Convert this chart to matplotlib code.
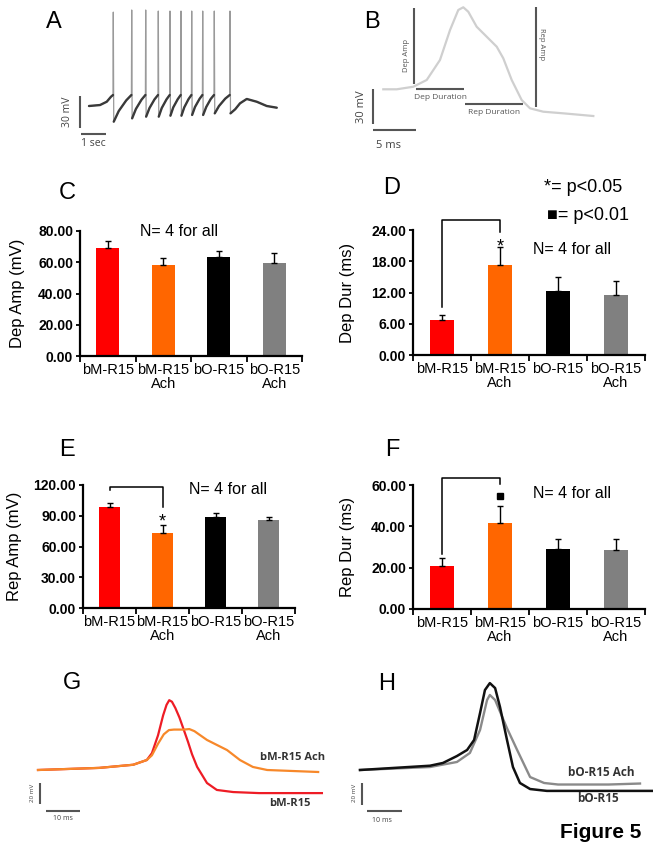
import numpy as np
import matplotlib
matplotlib.use('Agg')
import matplotlib.pyplot as plt

plt.rcParams['font.family'] = ['Liberation Sans', 'DejaVu Sans']

W, H = 653, 852

# ---------------- data ----------------
categories = ['bM-R15', 'bM-R15\nAch', 'bO-R15', 'bO-R15\nAch']
bar_colors = ['#FF0000', '#FF6600', '#000000', '#808080']

dep_amp = [69.0, 58.5, 63.5, 59.5]
dep_amp_err = [4.5, 4.0, 3.5, 6.5]
dep_dur = [6.8, 17.3, 12.2, 11.6]
dep_dur_err = [0.8, 3.4, 2.7, 2.6]
rep_amp = [98.5, 73.5, 89.0, 85.5]
rep_amp_err = [4.0, 7.0, 4.0, 3.0]
rep_dur = [21.0, 41.5, 29.0, 28.7]
rep_dur_err = [3.7, 8.5, 4.8, 5.0]

# Panel A: spike train (time s, voltage mV relative to rest)
A_pre = [(0.0, 0.0), (0.44, 0.9), (0.71, 4.0), (0.88, 8.7), (0.96, 10.3)]
A_spike_t = [0.972, 1.708, 2.268, 2.772, 3.24, 3.68, 4.108, 4.548, 5.012, 5.64]
A_spike_peak = [88, 90, 90, 89, 89, 89, 89, 89, 89, 89]
A_ramps = [
    [(0.99, -14.7), (1.19, -4.7), (1.49, 5.3), (1.696, 10.3)],
    [(1.725, -11.6), (1.876, -2.8), (2.10, 5.9), (2.256, 10.3)],
    [(2.285, -10.0), (2.42, -1.9), (2.62, 6.2), (2.760, 10.3)],
    [(2.79, -10.0), (2.91, -1.9), (3.10, 6.2), (3.228, 10.3)],
    [(3.257, -9.1), (3.37, -1.3), (3.55, 6.4), (3.668, 10.3)],
    [(3.697, -9.1), (3.81, -1.3), (3.98, 6.4), (4.096, 10.3)],
    [(4.125, -8.4), (4.24, -0.9), (4.42, 6.6), (4.536, 10.3)],
    [(4.565, -8.4), (4.69, -0.9), (4.87, 6.6), (5.000, 10.3)],
    [(5.03, -6.9), (5.20, 0.0), (5.45, 6.9), (5.628, 10.3)],
    [(5.66, -6.9), (5.85, -3.0), (6.04, 2.5), (6.31, 6.6), (6.71, 4.0),
     (7.11, 0.0), (7.51, -1.6)],
]

# Panel B: single action potential (ms, mV)
B_t = [0.0, 1.56, 3.49, 5.05, 6.59, 7.76, 8.72, 9.30, 9.88, 10.86, 12.02,
       13.19, 13.95, 14.93, 16.09, 17.06, 18.60, 20.93, 24.42]
B_v = [0.0, 0.0, 2.2, 8.0, 25.1, 50.8, 68.0, 70.3, 66.5, 53.6, 45.1,
       36.5, 26.6, 8.0, -9.2, -16.3, -19.2, -20.6, -22.9]

# Panel G (ms, mV)
G_red_t = [0, 18, 28, 32, 33.5, 35.3, 36.8, 37.8, 38.6, 39.4, 40.4, 41.6,
           42.8, 44.1, 45.3, 46.8, 49.7, 52.6, 57.4, 65, 83.5]
G_red_v = [0, 2, 5, 9.5, 16, 33, 52, 62, 66.5, 65, 59, 50,
           39, 27, 15, 3, -12.4, -19, -21, -22, -22]
G_or_t = [0, 18, 28, 32, 33.5, 35.3, 37.0, 38.5, 40.0, 43.0, 44.5, 46.0,
          49.7, 55.6, 59.4, 63.2, 67.4, 82.4]
G_or_v = [0, 2, 5, 9.5, 14, 25, 34, 38, 38.5, 38.5, 39, 37,
          28.6, 19, 9.5, 2.9, 0, -1.9]

# Panel H (ms, mV)
H_blk_t = [0, 20, 23.7, 27.7, 30.6, 32.6, 34.3, 35.7, 37.1, 38.6, 40.0, 42.0,
           43.7, 45.7, 48.6, 53.4, 83.7]
H_blk_v = [0, 3.9, 6.4, 12.7, 18.2, 27.3, 51.8, 72.7, 79, 74.5, 57.3, 27.3,
           2.7, -11.8, -17.3, -19, -19]
H_gry_t = [0, 20, 27.7, 31.4, 34.3, 36.3, 37.1, 38.6, 42.0, 44.9, 48.6,
           52.6, 56.6, 71, 80]
H_gry_v = [0, 2.7, 7.3, 15.5, 36.4, 63.6, 68.2, 63.6, 38, 18.2, -6.4,
           -11.8, -13.2, -13.2, -12.3]

# ---------------- figure ----------------
fig = plt.figure(figsize=(W / 100, H / 100), dpi=100)


def px_axes(L, R, T, B):
    return fig.add_axes([L / W, 1 - B / H, (R - L) / W, (B - T) / H])


def trace_axes(L, R, T, B, x0, y0, sx, sy):
    ax = px_axes(L, R, T, B)
    ax.set_xlim((L - x0) / sx, (R - x0) / sx)
    ax.set_ylim((y0 - B) / sy, (y0 - T) / sy)
    ax.axis('off')
    return ax


def bar_panel(rect, vals, errs, ymax, ystep, ylabel, label_x):
    ax = px_axes(*rect)
    x = np.arange(len(categories))
    ax.bar(x, vals, width=0.41, color=bar_colors, zorder=2)
    ax.errorbar(x, vals, yerr=[np.zeros(len(vals)), errs], fmt='none',
                ecolor='black', elinewidth=1.0, capsize=2.5, capthick=1.0,
                zorder=3)
    ax.set_xlim(-0.5, 3.5)
    ax.set_ylim(0, ymax)
    ticks = np.arange(0, ymax + 0.001, ystep)
    ax.set_yticks(ticks)
    ax.set_yticklabels([f'{t:.2f}' for t in ticks], fontweight='bold',
                       fontsize=10)
    ax.set_xticks(x)
    ax.set_xticklabels(categories, fontsize=10.5, linespacing=1.05)
    ax.set_xticks(np.arange(-0.5, 3.6, 1), minor=True)
    ax.tick_params(axis='x', which='major', length=0, pad=5)
    ax.tick_params(axis='x', which='minor', length=4, width=1.3)
    ax.tick_params(axis='y', length=3, width=1.3, pad=2)
    for s in ['top', 'right']:
        ax.spines[s].set_visible(False)
    for s in ['left', 'bottom']:
        ax.spines[s].set_linewidth(1.6)
    ax.set_ylabel(ylabel, fontsize=12)
    ax.yaxis.set_label_coords(label_x, 0.5)
    ax.patch.set_alpha(0)
    return ax


# Panel A
axA = trace_axes(0, 330, 0, 160, 89, 106, 25, 32 / 30)
trace = list(A_pre)
for t, p, ramp in zip(A_spike_t, A_spike_peak, A_ramps):
    trace.append((t, p))
    trace.extend(ramp)
tr = np.array(trace)
axA.plot(tr[:, 0], tr[:, 1], color='#9a9a9a', lw=0.9)
pre = np.array(A_pre)
axA.plot(pre[:, 0], pre[:, 1], color='#3a3a3a', lw=1.7, solid_capstyle='round')
for ramp in A_ramps:
    r = np.array(ramp)
    axA.plot(r[:, 0], r[:, 1], color='#3a3a3a', lw=1.7, solid_capstyle='round')

# Panel B
axB = trace_axes(330, 653, 0, 160, 383.3, 89.3, 8.6, 35 / 30)
axB.plot(B_t, B_v, color='#cfcfcf', lw=1.6)

# Panels C-F
axC = bar_panel((80, 302, 231, 356), dep_amp, dep_amp_err, 80, 20,
                'Dep Amp (mV)', -0.248)
axC.text(1.28, 79.4, 'N= 4 for all', fontsize=11.5, ha='center', va='center')

axD = bar_panel((413, 645, 230, 355), dep_dur, dep_dur_err, 24, 6,
                'Dep Dur (ms)', -0.25)
axD.plot([0, 0, 1, 1], [9.3, 25.9, 25.9, 23.7], color='black', lw=1.1,
         clip_on=False)
axD.text(1, 19.8, '*', fontsize=13, ha='center', va='baseline')
axD.text(2.24, 20.2, 'N= 4 for all', fontsize=11.5, ha='center', va='center')

axE = bar_panel((83, 295, 485, 608), rep_amp, rep_amp_err, 120, 30,
                'Rep Amp (mV)', -0.288)
axE.plot([0, 0, 1, 1], [115.5, 117.6, 117.6, 98.2], color='black', lw=1.1,
         clip_on=False)
axE.text(1, 79.3, '*', fontsize=13, ha='center', va='baseline')
axE.text(2.24, 115.2, 'N= 4 for all', fontsize=11.5, ha='center', va='center')

axF = bar_panel((413, 645, 485, 609), rep_dur, rep_dur_err, 60, 20,
                'Rep Dur (ms)', -0.25)
axF.plot([0, 0, 1, 1], [26.5, 63.6, 63.6, 60.5], color='black', lw=1.1,
         clip_on=False)
axF.plot([1], [54.8], marker='s', ms=5, color='black', clip_on=False)
axF.text(2.24, 55.7, 'N= 4 for all', fontsize=11.5, ha='center', va='center')

# Panel G
axG = trace_axes(0, 330, 660, 852, 38, 770, 3.4, 1.05)
axG.plot(G_red_t, G_red_v, color='#EE1C25', lw=1.6)
axG.plot(G_or_t, G_or_v, color='#F7882A', lw=1.6)

# Panel H
axH = trace_axes(330, 653, 660, 852, 360, 770, 3.5, 1.1)
axH.plot(H_gry_t, H_gry_v, color='#8a8a8a', lw=1.7)
axH.plot(H_blk_t, H_blk_v, color='#111111', lw=1.8)

# ---------------- overlay (pixel coordinates) ----------------
ov = fig.add_axes([0, 0, 1, 1])
ov.set_xlim(0, W)
ov.set_ylim(H, 0)
ov.axis('off')
ov.patch.set_alpha(0)

for lab, x, y in [('A', 54, 22), ('B', 372, 22), ('C', 67, 193), ('D', 392, 188),
                  ('E', 67, 450), ('F', 392, 450), ('G', 72, 683), ('H', 387, 684)]:
    ov.text(x, y, lab, fontsize=17, ha='center', va='center')

sb = dict(color='#555555', lw=1.5, solid_capstyle='butt')
os_font = ['Open Sans', 'DejaVu Sans']
# A scale bars
ov.plot([80, 80], [96, 128], **sb)
ov.plot([81, 106], [134, 134], **sb)
ov.text(68, 112, '30 mV', rotation=90, ha='center', va='center', fontsize=7.5,
        color='#444444', family=os_font)
ov.text(93, 144, '1 sec', ha='center', va='center', fontsize=7.5,
        color='#444444', family=os_font)
# B scale bars & annotations
ov.plot([373.3, 373.3], [89, 124], **sb)
ov.plot([373, 416], [130, 130], **sb)
ov.text(362, 107, '30 mV', rotation=90, ha='center', va='center', fontsize=8,
        color='#444444', family=os_font)
ov.text(388, 145, '5 ms', ha='center', va='center', fontsize=8,
        color='#444444', family=os_font)
ov.plot([414.3, 414.3], [8.3, 84], **sb)
ov.text(406, 56, 'Dep Amp', rotation=90, ha='center', va='center', fontsize=5.5,
        color='#555555', family=os_font)
ov.plot([416, 464], [89.3, 89.3], **sb)
ov.text(440, 97.7, 'Dep Duration', ha='center', va='center', fontsize=6,
        color='#555555', family=os_font)
ov.plot([465, 522.7], [104.3, 104.3], **sb)
ov.text(494, 112.7, 'Rep Duration', ha='center', va='center', fontsize=6,
        color='#555555', family=os_font)
ov.plot([535.7, 535.7], [6.7, 106.7], **sb)
ov.text(542, 44, 'Rep Amp', rotation=270, ha='center', va='center', fontsize=5.5,
        color='#555555', family=os_font)

# D significance legend
ov.text(583, 187, '*= p<0.05', fontsize=13, ha='center', va='center')
ov.text(588, 215, '\u25A0= p<0.01', fontsize=13, ha='center', va='center')

# G scale bar and labels
ov.plot([40, 40], [783, 804], **sb)
ov.plot([46, 80], [811, 811], **sb)
ov.text(32, 793, '20 mV', rotation=90, ha='center', va='center', fontsize=4.5,
        color='#444444', family=os_font)
ov.text(63, 819, '10 ms', ha='center', va='center', fontsize=5,
        color='#444444', family=os_font)
ov.text(260, 757, 'bM-R15 Ach', ha='left', va='center', fontsize=8,
        fontweight='bold', color='#333333', family=os_font)
ov.text(290, 804, 'bM-R15', ha='center', va='center', fontsize=8,
        fontweight='bold', color='#333333', family=os_font)
# H scale bar and labels
ov.plot([362, 362], [783, 805], **sb)
ov.plot([367, 402], [811, 811], **sb)
ov.text(355, 793, '20 mV', rotation=90, ha='center', va='center', fontsize=4.5,
        color='#444444', family=os_font)
ov.text(382, 820, '10 ms', ha='center', va='center', fontsize=5,
        color='#444444', family=os_font)
ov.text(568, 772, 'bO-R15 Ach', ha='left', va='center', fontsize=8.5,
        fontweight='bold', color='#333333', family=os_font)
ov.text(598, 799, 'bO-R15', ha='center', va='center', fontsize=8.5,
        fontweight='bold', color='#333333', family=os_font)

ov.text(601, 833, 'Figure 5', ha='center', va='center', fontsize=15,
        fontweight='bold')

fig.savefig('out.png', dpi=100)
